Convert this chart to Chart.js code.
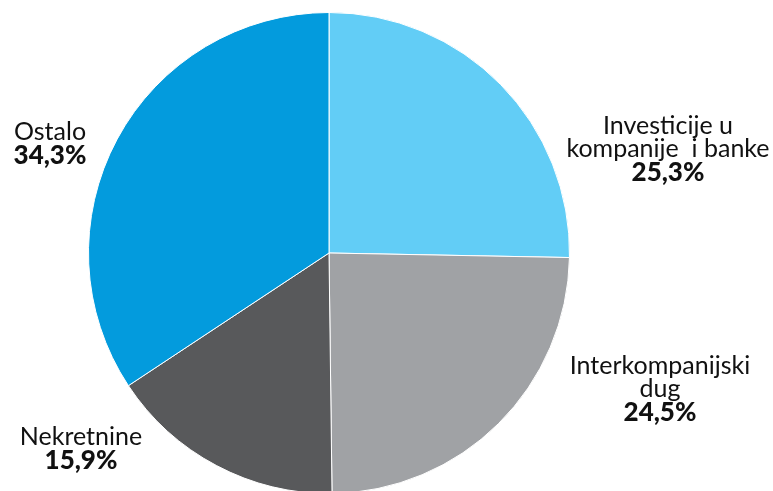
<!DOCTYPE html>
<html lang="sr">
<head>
    <meta charset="UTF-8">
    <title>Struktura</title>
    <script src="https://cdn.jsdelivr.net/npm/chart.js"></script>
    <style>
        html, body { margin: 0; padding: 0; background: #fff; overflow: hidden; }
        #wrap { width: 773px; height: 500px; position: relative; }
    </style>
</head>
<body>
<div id="wrap"><canvas id="pieChart"></canvas></div>

<script>
    // podaci
    const kategorije = [["Investicije u", "kompanije  i banke"], ["Interkompanijski", "dug"], ["Nekretnine"], ["Ostalo"]];
    const vrijednosti = [25.3, 24.5, 15.9, 34.3];
    const boje = ["#62cdf6", "#a0a2a5", "#58595b", "#039bdd"];

    // sredine prvog reda etiketa (x, y)
    const polozaji = [[668, 126], [660, 366], [81, 437], [50, 132]];

    const etikete = {
        id: "etikete",
        afterDraw(chart) {
            const ctx = chart.ctx;
            ctx.save();
            ctx.fillStyle = "#111";
            ctx.textAlign = "center";
            ctx.textBaseline = "middle";
            const lh = 23;
            kategorije.forEach((linije, i) => {
                const [x, y] = polozaji[i];
                ctx.font = "25px Lato";
                linije.forEach((t, j) => ctx.fillText(t, x, y + j * lh));
                ctx.font = "900 26px Lato";
                ctx.fillText(vrijednosti[i].toFixed(1).replace(".", ",") + "%", x, y + linije.length * lh + 1);
            });
            ctx.restore();
        }
    };

    const ctx = document.getElementById("pieChart").getContext("2d");
    new Chart(ctx, {
        type: "pie",
        data: {
            labels: kategorije.map(l => l.join(" ")),
            datasets: [{
                data: vrijednosti,
                backgroundColor: boje,
                borderColor: "#ffffff",
                borderWidth: 1
            }]
        },
        options: {
            responsive: true,
            maintainAspectRatio: false,
            animation: false,
            layout: { padding: { top: 12, bottom: 6, left: 88, right: 203 } },
            plugins: { legend: { display: false }, tooltip: { enabled: false } }
        },
        plugins: [etikete]
    });
</script>
</body>
</html>
